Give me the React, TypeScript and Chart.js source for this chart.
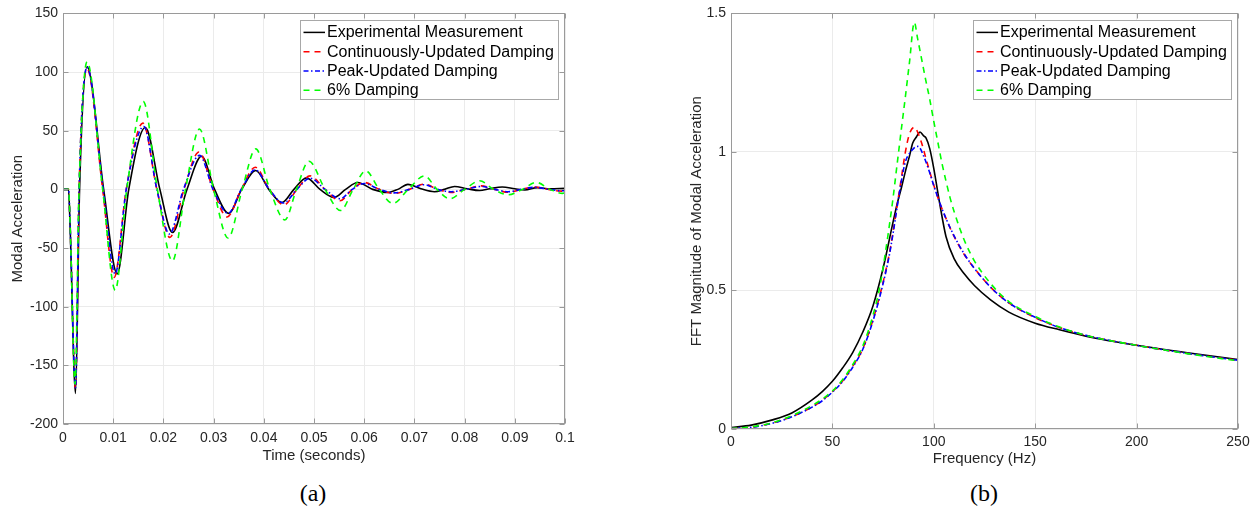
import React, { useEffect, useRef } from 'react';
import { Chart, registerables } from 'chart.js';

Chart.register(...registerables);

// ---------- shared series styling ----------
const seriesNames = [
  'Experimental Measurement',
  'Continuously-Updated Damping',
  'Peak-Updated Damping',
  '6% Damping',
];
const seriesColors = ['#000000', '#ff0000', '#0000ff', '#00ff00'];
const seriesDashes: number[][] = [[], [6, 5], [5, 2.5, 1.5, 2.5], [6, 5]];

// ---------- (a) time domain ----------
const timeTicks = [0, 0.01, 0.02, 0.03, 0.04, 0.05, 0.06, 0.07, 0.08, 0.09, 0.1];
const timeTickLabels = ['0', '0.01', '0.02', '0.03', '0.04', '0.05', '0.06', '0.07', '0.08', '0.09', '0.1'];
const accelTicks = [-200, -150, -100, -50, 0, 50, 100, 150];
const accelTickLabels = ['-200', '-150', '-100', '-50', '0', '50', '100', '150'];

const expTime = [0, 0.0011, 0.0014, 0.0025, 0.0033, 0.0048, 0.0081, 0.0108, 0.0131, 0.0164, 0.0193, 0.0218, 0.0247, 0.0276, 0.0302, 0.0330, 0.0356, 0.0384, 0.0410, 0.0436, 0.0460, 0.0485, 0.0512, 0.0540, 0.0563, 0.0587, 0.0617, 0.0647, 0.0667, 0.0687, 0.0713, 0.0740, 0.0760, 0.0780, 0.0805, 0.0830, 0.0850, 0.0875, 0.0900, 0.0920, 0.0945, 0.0970, 0.1000];
const expAccel = [0, 0, -30, -174, 0, 104.5, 0, -72, 0, 52.8, 0, -36.8, 0, 28.2, 0, -20.5, 0, 16.1, 0, -11.3, 0, 9.8, 0, -6.9, 0, 5.9, 0, -2.6, 0, 4.3, 0.5, -2.0, 0, 2.5, 0.5, -1.0, 0.5, 2.0, 0.5, -0.5, 1.5, 0.5, 1.0];

const contTime = [0, 0.0011, 0.0014, 0.0025, 0.0032, 0.0048, 0.0079, 0.0102, 0.0126, 0.0159, 0.0187, 0.0213, 0.0241, 0.0271, 0.0299, 0.0327, 0.0355, 0.0383, 0.0411, 0.0440, 0.0466, 0.0492, 0.0522, 0.0552, 0.0576, 0.0600, 0.0630, 0.0660, 0.0690, 0.0720, 0.0746, 0.0773, 0.0802, 0.0833, 0.0860, 0.0887, 0.0913, 0.0940, 0.0967, 0.0993, 0.1000];
const contAccel = [0, 0, -28, -170, 0, 103, 0, -75, 0, 56.5, 0, -41, 0, 31.9, 0, -23.5, 0, 18.9, 0, -13.3, 0, 11.5, 0, -9.7, 0, 5.9, 0, -3.5, 0, 4.5, 0, -2.6, 0, 3.0, 0, -2.5, 0, 2.0, 0, -1.5, -1.2];

const peakTime = [0, 0.0011, 0.0014, 0.0025, 0.0032, 0.0048, 0.0080, 0.0104, 0.0126, 0.0161, 0.0187, 0.0212, 0.0240, 0.0272, 0.0299, 0.0329, 0.0355, 0.0383, 0.0411, 0.0439, 0.0466, 0.0492, 0.0522, 0.0552, 0.0576, 0.0600, 0.0630, 0.0660, 0.0690, 0.0720, 0.0746, 0.0773, 0.0802, 0.0833, 0.0860, 0.0887, 0.0913, 0.0940, 0.0967, 0.0993, 0.1000];
const peakAccel = [0, 0, -28, -169, 0, 104, 0, -72, 0, 53.6, 0, -38, 0, 29, 0, -20.5, 0, 16.7, 0, -11.6, 0, 9.5, 0, -8, 0, 5, 0, -3, 0, 4, 0, -2, 0, 2.5, 0, -2, 0, 1.8, 0, -1.2, -1];

const sixTime = [0, 0.0011, 0.0014, 0.0024, 0.0032, 0.0048, 0.0079, 0.0104, 0.0127, 0.0160, 0.0188, 0.0218, 0.0244, 0.0272, 0.0300, 0.0329, 0.0357, 0.0384, 0.0412, 0.0442, 0.0465, 0.0490, 0.0522, 0.0553, 0.0578, 0.0603, 0.0630, 0.0657, 0.0688, 0.0720, 0.0745, 0.0770, 0.0800, 0.0830, 0.0858, 0.0887, 0.0915, 0.0943, 0.0970, 0.0995, 0.1000];
const sixAccel = [0, 0, -27, -166, 0, 108.7, 0, -86, 0, 74.8, 0, -61, 0, 51.4, 0, -41.5, 0, 34.5, 0, -26, 0, 24, 0, -18, 0, 15.8, 0, -12, 0, 11.5, 0, -8, 0, 7.3, 0, -4.6, 0, 5.9, 0, -3.4, -3];

// ---------- (b) frequency domain ----------
const freqTicks = [0, 50, 100, 150, 200, 250];
const freqTickLabels = ['0', '50', '100', '150', '200', '250'];
const magTicks = [0, 0.5, 1, 1.5];
const magTickLabels = ['0', '0.5', '1', '1.5'];

const expFreq = [0, 10, 20, 30, 40, 45, 50, 55, 60, 65, 70, 75, 80, 82, 84, 86, 88, 89.6, 91.5, 93.2, 95, 96.2, 98, 100, 103, 106, 110, 115, 120, 128, 137, 150, 162, 175, 200, 225, 250];
const expMag = [0.005, 0.014, 0.032, 0.058, 0.105, 0.135, 0.172, 0.220, 0.276, 0.350, 0.444, 0.580, 0.750, 0.815, 0.870, 0.930, 0.985, 1.032, 1.055, 1.072, 1.058, 1.050, 1.012, 0.940, 0.810, 0.695, 0.615, 0.560, 0.518, 0.466, 0.422, 0.382, 0.358, 0.335, 0.302, 0.275, 0.251];

const contFreq = [0, 10, 20, 30, 40, 45, 50, 55, 60, 65, 70, 75, 78, 80, 82, 84, 86, 88, 90.4, 92, 94, 96, 98, 100, 103, 106, 110, 115, 120, 128, 137, 150, 162, 175, 200, 225, 250];
const contMag = [0.002, 0.007, 0.021, 0.045, 0.080, 0.104, 0.135, 0.173, 0.226, 0.290, 0.394, 0.530, 0.630, 0.715, 0.810, 0.905, 1.000, 1.065, 1.089, 1.072, 1.032, 0.980, 0.928, 0.880, 0.815, 0.760, 0.695, 0.630, 0.580, 0.512, 0.455, 0.402, 0.366, 0.338, 0.302, 0.273, 0.248];

const peakFreq = [0, 10, 20, 30, 40, 45, 50, 55, 60, 65, 70, 75, 78, 80, 82, 84, 86, 88, 90, 91.6, 93, 95, 98, 100, 103, 106, 110, 115, 120, 128, 137, 150, 162, 175, 200, 225, 250];
const peakMag = [0.002, 0.006, 0.020, 0.044, 0.079, 0.102, 0.133, 0.171, 0.223, 0.288, 0.390, 0.525, 0.625, 0.710, 0.805, 0.895, 0.965, 0.995, 1.012, 1.020, 1.016, 0.985, 0.925, 0.878, 0.815, 0.760, 0.697, 0.632, 0.580, 0.512, 0.455, 0.403, 0.366, 0.338, 0.302, 0.273, 0.248];

const sixFreq = [0, 10, 20, 30, 40, 45, 50, 55, 60, 65, 70, 73.3, 76.2, 79.7, 82, 84, 86, 88, 90.4, 92, 94, 96, 98, 100, 102, 104, 106, 108, 110, 113, 116, 120, 128, 137, 150, 162, 175, 200, 225, 250];
const sixMag = [0.002, 0.008, 0.022, 0.048, 0.085, 0.108, 0.137, 0.178, 0.232, 0.300, 0.410, 0.510, 0.640, 0.822, 0.961, 1.082, 1.200, 1.323, 1.468, 1.410, 1.335, 1.260, 1.190, 1.110, 1.035, 0.960, 0.895, 0.835, 0.785, 0.720, 0.665, 0.607, 0.525, 0.460, 0.406, 0.368, 0.338, 0.302, 0.272, 0.246];

// ---------- styling constants ----------
const SANS = '"Liberation Sans", Arial, Helvetica, sans-serif';
const TEXT_COLOR = '#262626';
const AXIS_COLOR = '#9a9a9a';
const GRID_COLOR = '#ebebeb';

const framePlugin = {
  id: 'matlabFrame',
  afterDatasetsDraw(chart: any) {
    const { ctx, chartArea } = chart;
    const l = Math.round(chartArea.left) + 0.5;
    const t = Math.round(chartArea.top) + 0.5;
    const r = Math.round(chartArea.right) - 0.5;
    const b = Math.round(chartArea.bottom) - 0.5;
    ctx.save();
    ctx.setLineDash([]);
    ctx.strokeStyle = AXIS_COLOR;
    ctx.lineWidth = 1;
    ctx.strokeRect(l, t, r - l, b - t);
    const tl = 5;
    ctx.beginPath();
    const xs = chart.scales.x;
    const ys = chart.scales.y;
    xs.ticks.forEach((tk: any) => {
      const px = Math.round(xs.getPixelForValue(tk.value)) + 0.5;
      ctx.moveTo(px, b); ctx.lineTo(px, b - tl);
      ctx.moveTo(px, t); ctx.lineTo(px, t + tl);
    });
    ys.ticks.forEach((tk: any) => {
      const py = Math.round(ys.getPixelForValue(tk.value)) + 0.5;
      ctx.moveTo(l, py); ctx.lineTo(l + tl, py);
      ctx.moveTo(r, py); ctx.lineTo(r - tl, py);
    });
    ctx.stroke();
    ctx.restore();
  },
  afterDraw(chart: any) {
    const { ctx, chartArea } = chart;
    const dsets = chart.data.datasets;
    ctx.save();
    ctx.font = `16px ${SANS}`;
    const maxW = Math.max(...dsets.map((d: any) => ctx.measureText(d.label).width));
    const padL = 3.5;
    const sampleLen = 21.5;
    const gap = 2;
    const boxW = Math.round(padL + sampleLen + gap + maxW + 4);
    const boxH = 79;
    const rowH = 19.3;
    const x1 = Math.round(chartArea.right - 7 - boxW);
    const y1 = Math.round(chartArea.top + 7);
    ctx.fillStyle = '#ffffff';
    ctx.fillRect(x1, y1, boxW, boxH);
    ctx.strokeStyle = '#a8a8a8';
    ctx.lineWidth = 1;
    ctx.setLineDash([]);
    ctx.strokeRect(x1 + 0.5, y1 + 0.5, boxW, boxH);
    dsets.forEach((d: any, i: number) => {
      const cy = y1 + 12.4 + i * rowH;
      ctx.beginPath();
      ctx.setLineDash(d.borderDash || []);
      ctx.strokeStyle = d.borderColor;
      ctx.lineWidth = 1.5;
      ctx.moveTo(x1 + padL, cy);
      ctx.lineTo(x1 + padL + sampleLen, cy);
      ctx.stroke();
      ctx.setLineDash([]);
      ctx.fillStyle = '#000000';
      ctx.textAlign = 'left';
      ctx.textBaseline = 'middle';
      ctx.fillText(d.label, x1 + padL + sampleLen + gap, cy + 0.5);
    });
    ctx.restore();
  },
};

function makeDatasets(xsList: number[][], ysList: number[][]) {
  return xsList.map((xs, k) => ({
    label: seriesNames[k],
    data: xs.map((x, i) => ({ x, y: ysList[k][i] })),
    borderColor: seriesColors[k],
    backgroundColor: seriesColors[k],
    borderDash: seriesDashes[k],
    borderWidth: 1.6,
    pointRadius: 0,
    fill: false,
    cubicInterpolationMode: 'monotone' as const,
    order: 4 - k,
  }));
}

interface AxisSpec {
  ticks: number[];
  labels: string[];
  title: string;
  size: number;
  tickPad: number;
  titlePad: number;
}

function makeConfig(datasets: any[], xSpec: AxisSpec, ySpec: AxisSpec, padding: any) {
  const tickFont = { family: SANS, size: 14 };
  const titleFont = { family: SANS, size: 15 };
  return {
    type: 'line' as const,
    data: { datasets },
    plugins: [framePlugin],
    options: {
      animation: false as const,
      responsive: false,
      devicePixelRatio: 1,
      layout: { padding },
      plugins: { legend: { display: false }, tooltip: { enabled: false } },
      scales: {
        x: {
          type: 'linear' as const,
          min: xSpec.ticks[0],
          max: xSpec.ticks[xSpec.ticks.length - 1],
          afterBuildTicks: (s: any) => { s.ticks = xSpec.ticks.map((v) => ({ value: v })); },
          afterFit: (s: any) => { s.height = xSpec.size; },
          ticks: {
            autoSkip: false, maxRotation: 0, padding: xSpec.tickPad,
            font: tickFont, color: TEXT_COLOR,
            callback: (_v: any, i: number) => xSpec.labels[i],
          },
          grid: { color: GRID_COLOR, drawTicks: false, lineWidth: 1 },
          border: { display: false },
          title: { display: true, text: xSpec.title, font: titleFont, color: TEXT_COLOR, padding: { top: 0, bottom: xSpec.titlePad } },
        },
        y: {
          type: 'linear' as const,
          min: ySpec.ticks[0],
          max: ySpec.ticks[ySpec.ticks.length - 1],
          afterBuildTicks: (s: any) => { s.ticks = ySpec.ticks.map((v) => ({ value: v })); },
          afterFit: (s: any) => { s.width = ySpec.size; },
          ticks: {
            autoSkip: false, padding: ySpec.tickPad,
            font: tickFont, color: TEXT_COLOR,
            callback: (_v: any, i: number) => ySpec.labels[i],
          },
          grid: { color: GRID_COLOR, drawTicks: false, lineWidth: 1 },
          border: { display: false },
          title: { display: true, text: ySpec.title, font: titleFont, color: TEXT_COLOR, padding: { top: ySpec.titlePad, bottom: 0 } },
        },
      },
    },
  };
}

function ChartCanvas({ config, width, height, left }: { config: any; width: number; height: number; left: number }) {
  const ref = useRef<HTMLCanvasElement | null>(null);
  useEffect(() => {
    if (!ref.current) return;
    const chart = new Chart(ref.current, config);
    return () => chart.destroy();
  }, [config]);
  return (
    <canvas
      ref={ref}
      width={width}
      height={height}
      style={{ position: 'absolute', left, top: 0, width, height }}
    />
  );
}

const timeConfig = makeConfig(
  makeDatasets([expTime, contTime, peakTime, sixTime], [expAccel, contAccel, peakAccel, sixAccel]),
  { ticks: timeTicks, labels: timeTickLabels, title: 'Time (seconds)', size: 46, tickPad: 6, titlePad: 5 },
  { ticks: accelTicks, labels: accelTickLabels, title: 'Modal Acceleration', size: 63, tickPad: 5, titlePad: 8.5 },
  { left: 0, top: 11, right: 35, bottom: 0 },
);

const freqConfig = makeConfig(
  makeDatasets([expFreq, contFreq, peakFreq, sixFreq], [expMag, contMag, peakMag, sixMag]),
  { ticks: freqTicks, labels: freqTickLabels, title: 'Frequency (Hz)', size: 41, tickPad: 5, titlePad: 2 },
  { ticks: magTicks, labels: magTickLabels, title: 'FFT Magnitude of Modal Acceleration', size: 61, tickPad: 5, titlePad: 18 },
  { left: 0, top: 12, right: 20, bottom: 0 },
);

export default function App() {
  const captionStyle: React.CSSProperties = {
    position: 'absolute',
    top: 478,
    width: 100,
    textAlign: 'center',
    fontFamily: '"Liberation Serif", "Times New Roman", serif',
    fontSize: 24,
    lineHeight: '30px',
    color: '#000',
  };
  return (
    <div style={{ position: 'absolute', left: 0, top: 0, width: 1258, height: 516, background: '#ffffff', overflow: 'hidden' }}>
      <ChartCanvas config={timeConfig} width={600} height={470} left={0} />
      <ChartCanvas config={freqConfig} width={588} height={470} left={670} />
      <div style={{ ...captionStyle, left: 313 - 50 }}>(a)</div>
      <div style={{ ...captionStyle, left: 984 - 50 }}>(b)</div>
    </div>
  );
}
